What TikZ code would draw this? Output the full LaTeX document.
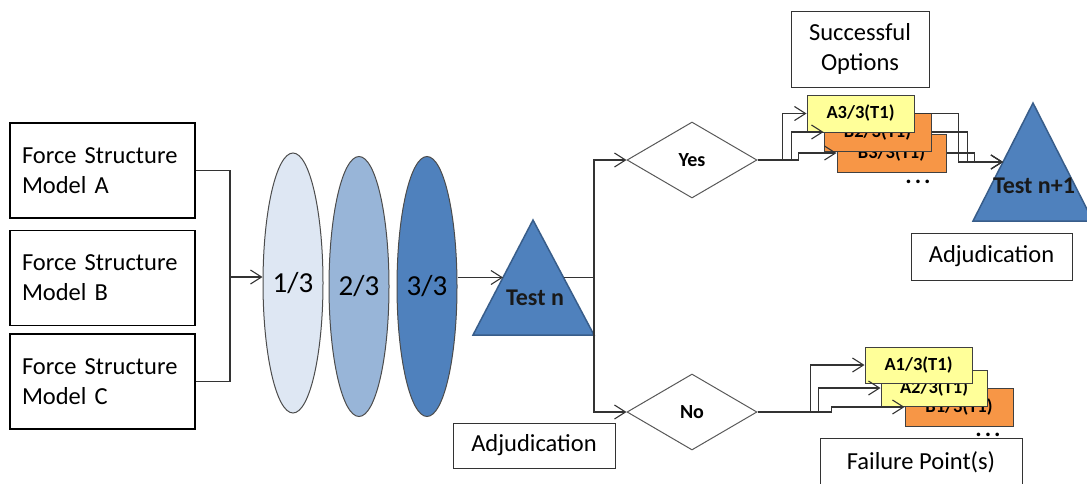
\documentclass[tikz,border=0pt]{standalone}
\usepackage{fontspec}
\setmainfont{Carlito}
\usetikzlibrary{shapes.geometric,arrows.meta}
\definecolor{azul}{RGB}{79,129,189}
\definecolor{azulborde}{RGB}{56,93,138}
\definecolor{azulmedio}{RGB}{152,181,216}
\definecolor{azulclaro}{RGB}{222,231,243}
\definecolor{amarillo}{RGB}{255,255,153}
\definecolor{naranja}{RGB}{247,150,70}

\begin{document}
\begin{tikzpicture}[x=1pt,y=-1pt,
    linea/.style={line width=1.1pt, draw=black!80},
    flecha/.style={linea, -{Straight Barb[length=11pt,width=14pt]}},
    modelo/.style={draw=black, line width=1.8pt, text width=161pt, inner xsep=12pt,
      minimum height=95pt, align=left, font=\fontsize{24.5}{30}\selectfont},
    caja/.style={draw=black!80, line width=1pt, fill=white, align=center,
      font=\fontsize{24.5}{30}\selectfont},
    fase/.style={ellipse, draw=black!70, line width=1pt, minimum width=60pt,
      minimum height=260pt, inner sep=0pt, font=\fontsize{29}{30}\selectfont},
    decision/.style={diamond, draw=black!65, line width=1pt, minimum width=130pt,
      minimum height=76pt, inner sep=0pt, font=\bfseries\fontsize{20}{22}\selectfont},
    opcion/.style={draw=black!75, line width=1pt, minimum width=107pt,
      minimum height=37pt, inner sep=0pt, font=\bfseries\fontsize{18.5}{20}\selectfont},
    puntos/.style={anchor=base, font=\bfseries\fontsize{24}{24}\selectfont},
    prueba/.style={fill=azul, draw=azulborde, line width=1.5pt},
    textoprueba/.style={font=\bfseries\fontsize{24}{26}\selectfont, text=black!90}
  ]
    \useasboundingbox (0,0) rectangle (1087,483);

    % Modelos
    \node[modelo] (fa) at (102.5,170.5) {Force Structure\\Model A};
    \node[modelo] (fb) at (102.5,278) {Force Structure\\Model B};
    \node[modelo] (fc) at (102.5,381.5) {Force Structure\\Model C};

    % Fases
    \node[fase, fill=azulclaro] (e1) at (293,283) {1/3};
    \node[fase, fill=azulmedio] (e2) at (359,286.5) {2/3};
    \node[fase, fill=azul] (e3) at (427,286.5) {3/3};

    % Pruebas
    \draw[prueba] (473,335) -- (533,220) -- (594,335) -- cycle;
    \node[textoprueba] (tn) at (535,298) {Test n};
    \draw[prueba] (973,221) -- (1033,103) -- (1093,221) -- cycle;
    \node[textoprueba] (tn1) at (1034,186) {Test n+1};

    % Decisiones
    \node[decision] (yes) at (692,160) {Yes};
    \node[decision] (no) at (692,412) {No};

    % Etiquetas
    \node[caja, minimum width=138pt, minimum height=76pt] (exito) at (860,49) {Successful\\Options};
    \node[caja, minimum width=161pt, minimum height=47pt] (adj2) at (991.5,256.5) {Adjudication};
    \node[caja, minimum width=162pt, minimum height=45pt] (adj1) at (534,445.5) {Adjudication};
    \node[caja, minimum width=202pt, minimum height=48pt] (fallo) at (921,462) {Failure Point(s)};

    % Opciones con exito
    \node[opcion, fill=naranja, minimum width=109pt, minimum height=38pt] (b3) at (891.5,153) {B3/3(T1)};
    \node[opcion, fill=naranja, minimum height=38pt] (b2) at (877.5,132) {B2/3(T1)};
    \node[opcion, fill=amarillo] (a3) at (860.5,113.5) {A3/3(T1)};
    \node[puntos] (mas1) at (918,183) {.\hspace{3pt}.\hspace{3pt}.};

    % Opciones con fallo
    \node[opcion, fill=naranja, minimum width=108pt, minimum height=38pt] (b1) at (959,407) {B1/3(T1)};
    \node[opcion, fill=amarillo, minimum width=106pt, minimum height=36pt] (a2) at (934,388) {A2/3(T1)};
    \node[opcion, fill=amarillo, minimum height=36pt] (a1) at (918.5,365) {A1/3(T1)};
    \node[puntos] (mas2) at (988,436) {.\hspace{3pt}.\hspace{3pt}.};

    % Conectores
    \coordinate (union) at (230,277);
    \draw[linea] (fa.east) -| (union) |- (fc.east);
    \draw[flecha] (union) -- (e1.west |- union);
    \coordinate (tnin) at (503,277.5);
    \coordinate (tnout) at (563.5,277.5);
    \coordinate (rama) at (594,277.5);
    \draw[flecha] (e3.east |- tnin) -- (tnin);
    \draw[linea] (tnout) -- (rama);
    \draw[flecha] (rama) |- (yes.west);
    \draw[flecha] (rama) |- (no.west);

    \draw[flecha] (yes.east) -| ([xshift=-24pt]a3.west) -- (a3.west);
    \draw[flecha] (yes.east) -| ([xshift=-32pt]b2.west) -- (b2.west);
    \draw[flecha] (yes.east) -- ++(41,0) |- (b3.west);

    \coordinate (tn1in) at (1003,162);
    \draw[flecha] (a3.east) -- ++(44,0) |- (tn1in);
    \draw[flecha] (b2.east) -- ++(36,0) |- (tn1in);
    \draw[flecha] (b3.east) -- ++(28,0) |- (tn1in);

    \draw[flecha] (no.east) -| ([xshift=-54pt]a1.west) -- (a1.west);
    \draw[flecha] (no.east) -| ([xshift=-62pt]a2.west) -- (a2.west);
    \draw[flecha] (no.east) -- ++(74,0) |- (b1.west);

  \end{tikzpicture}
\end{document}
